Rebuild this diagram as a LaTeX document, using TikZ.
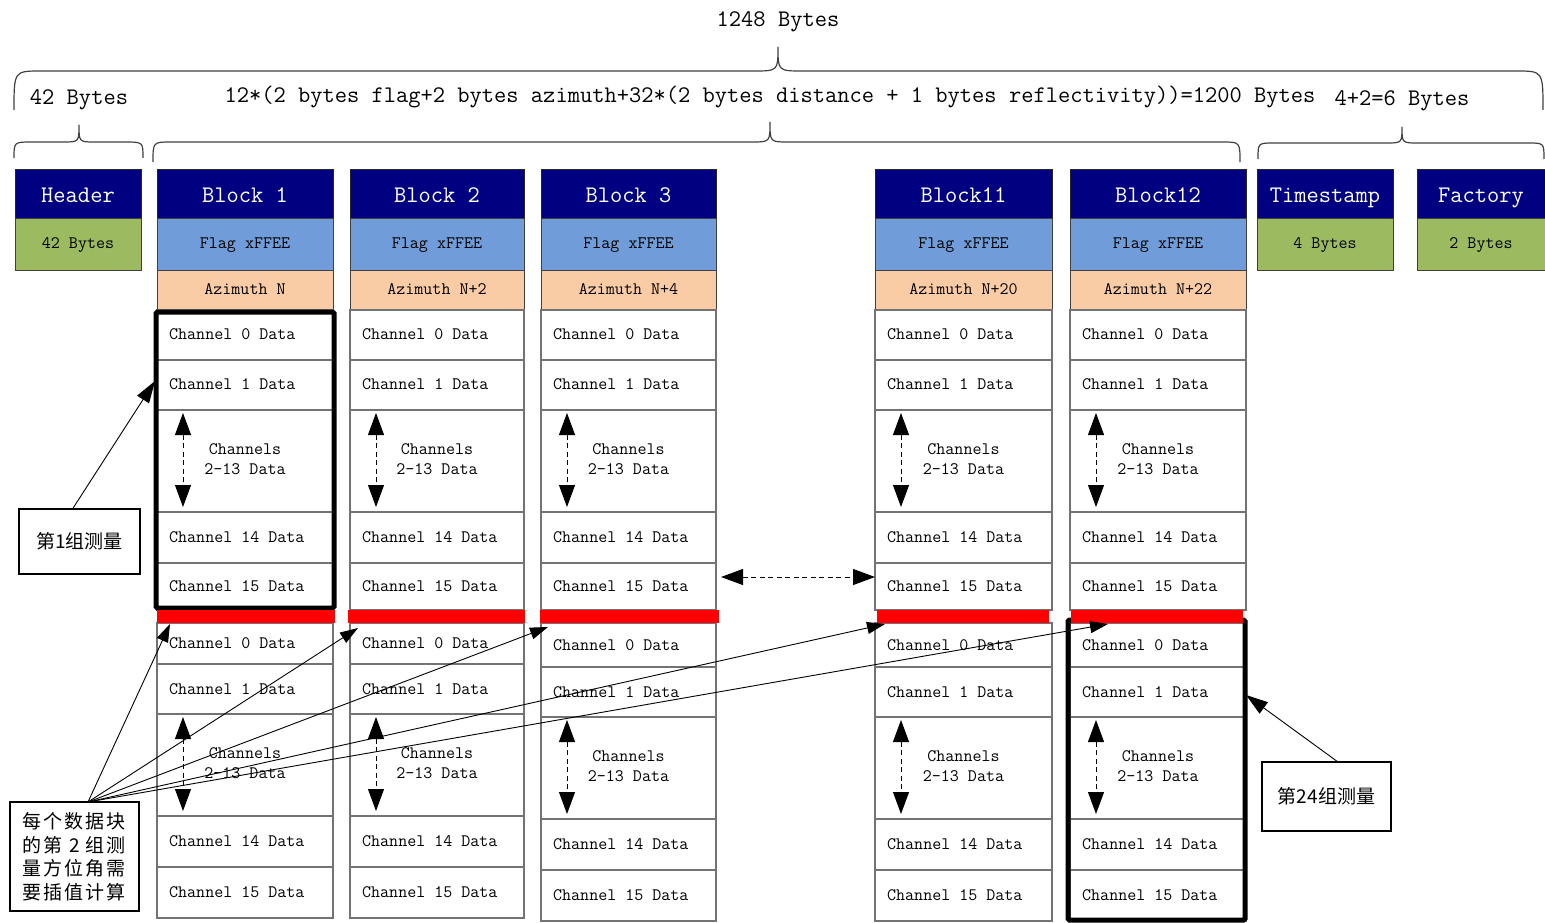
\documentclass[tikz,border=0pt]{standalone}
\usepackage{fontspec}
\usetikzlibrary{arrows.meta}
\newfontfamily\cjk{Noto Sans CJK SC}
\definecolor{navy}{RGB}{0,0,128}
\definecolor{flagblue}{RGB}{112,157,217}
\definecolor{azim}{RGB}{250,204,166}
\definecolor{grn}{RGB}{156,187,97}
\newcommand\bigf{\ttfamily\addfontfeatures{FakeBold=1.4}\fontsize{23.8}{26}\selectfont}
\newcommand\smf{\ttfamily\addfontfeatures{FakeBold=1.4}\fontsize{17.5}{20}\selectfont}
\newcommand\cc[1]{\makebox[21pt]{#1}}
\newcommand\mybrace[8]{\draw[bracel] (#1,#3) .. controls (#1,#4) .. (#1+#5,#4) -- (#6-#8,#4) .. controls (#6,#4) .. (#6,#7) .. controls (#6,#4) .. (#6+#8,#4) -- (#2-#5,#4) .. controls (#2,#4) .. (#2,#3);}
\begin{document}
\begin{tikzpicture}[x=1pt,y=-1pt,
  cellat/.style n args={4}{anchor=north west, at={(#1,#2)}, minimum width={(#3-(#1))*1pt}, minimum height={(#4-(#2))*1pt}},
  base/.style={inner sep=0pt, outer sep=0pt, line width=1pt},
  hdr/.style={base, fill=navy, draw=black!85, text=white, font=\bigf, text height=19pt, text depth=3pt},
  flagc/.style={base, fill=flagblue, draw=black!75, font=\smf, text height=12pt, text depth=3pt},
  azc/.style={base, fill=azim, draw=black!75, font=\smf, text height=12pt, text depth=3pt},
  grnc/.style={base, fill=grn, draw=black!75, font=\smf, text height=12pt, text depth=3pt},
  cell/.style={base, fill=white, draw=black!55, line width=1.2pt},
  chtext/.style={inner sep=0pt, font=\smf, anchor=west},
  midtext/.style={inner sep=0pt, font=\smf, align=center},
  redbar/.style={base, fill=red, draw=none},
  frame/.style={base, draw=black, line width=5pt, rounded corners=1.5pt},
  bracel/.style={draw=black!75, line width=1.2pt},
  ttl/.style={inner sep=0pt, font=\bigf},
  cbox/.style={base, draw=black, line width=2pt, fill=white, font=\cjk\fontsize{19}{23.5}\selectfont},
  vdash/.style={line width=0.9pt, dash pattern=on 5pt off 3.5pt, {Triangle[length=22pt,width=16pt]}-{Triangle[length=22pt,width=16pt]}},
  ptr/.style={line width=0.9pt, -{Triangle[length=18pt,width=12pt]}},
  ptrbig/.style={line width=0.9pt, -{Triangle[length=22pt,width=14pt]}},
]
\useasboundingbox (0,0) rectangle (1545,923);

% braces and titles
\mybrace{14}{1543}{110}{71}{27}{778}{47}{25}
\mybrace{14}{143}{158}{142}{18}{79}{125}{16}
\mybrace{153}{1240}{162}{142}{18}{770}{122}{18}
\mybrace{1258}{1544}{159}{143}{16}{1402}{127}{16}
\node[ttl] (t1248) at (778,22) {1248 Bytes};
\node[ttl] (t42) at (79,100) {42 Bytes};
\node[ttl] (tmid) at (770,97) {12*(2 bytes flag+2 bytes azimuth+32*(2 bytes distance + 1 bytes reflectivity))=1200 Bytes};
\node[ttl] (t6) at (1402,101) {4+2=6 Bytes};

% header / timestamp / factory
\node[hdr, cellat={15}{170}{141}{218}] (hdr) {Header};
\node[grnc, cellat={15}{218}{141}{270}] (hdrb) {42 Bytes};
\node[hdr, cellat={1257}{170}{1393}{218}] (ts) {Timestamp};
\node[grnc, cellat={1257}{218}{1393}{270}] (tsb) {4 Bytes};
\node[hdr, cellat={1417}{170}{1548}{218}] (fac) {\hspace*{-3pt}Factory};
\node[grnc, cellat={1417}{218}{1548}{270}] (facb) {\hspace*{-3pt}2 Bytes};

% blocks
\foreach \n/\xl/\xr/\bn/\az/\dy in {1/157/333/Block 1/Azimuth N/0, 2/350/524/Block 2/Azimuth N+2/0, 3/541/716/Block 3/Azimuth N+4/3, 11/875/1052/Block11/Azimuth N+20/3, 12/1070/1246/Block12/Azimuth N+22/3}{
  \node[hdr, cellat={\xl}{170}{\xr}{218}] (blk\n) {\bn};
  \node[flagc, cellat={\xl}{218}{\xr}{270}] (flag\n) {Flag xFFEE};
  \node[azc, cellat={\xl}{270}{\xr}{310}] (az\n) {\az};
  % group 1
  \node[cell, cellat={\xl}{310}{\xr}{360}] (b\n-a0) {};
  \node[chtext] (b\n-a0t) at ([xshift=12pt,yshift=1pt]b\n-a0.west) {Channel 0 Data};
  \node[cell, cellat={\xl}{360}{\xr}{410}] (b\n-a1) {};
  \node[chtext] (b\n-a1t) at ([xshift=12pt,yshift=1pt]b\n-a1.west) {Channel 1 Data};
  \node[cell, cellat={\xl}{410}{\xr}{512}] (b\n-am) {};
  \node[midtext] (b\n-amt) at ([yshift=2pt]b\n-am.center) {Channels\\2-13 Data};
  \coordinate (b\n-au) at ([xshift=26pt,yshift=-3pt]b\n-am.north west);
  \coordinate (b\n-ad) at ([xshift=26pt,yshift=5pt]b\n-am.south west);
  \draw[vdash] (b\n-au) -- (b\n-ad);
  \node[cell, cellat={\xl}{512}{\xr}{563}] (b\n-a14) {};
  \node[chtext] (b\n-a14t) at ([xshift=12pt]b\n-a14.west) {Channel 14 Data};
  \node[cell, cellat={\xl}{563}{\xr}{610}] (b\n-a15) {};
  \node[chtext] (b\n-a15t) at ([xshift=12pt]b\n-a15.west) {Channel 15 Data};
  % group 2
  \node[cell, cellat={\xl}{623}{\xr}{664+\dy}] (b\n-b0) {};
  \node[chtext] (b\n-b0t) at ([xshift=12pt]b\n-b0.west) {Channel 0 Data};
  \node[cell, cellat={\xl}{664+\dy}{\xr}{714+\dy}] (b\n-b1) {};
  \node[chtext] (b\n-b1t) at ([xshift=12pt]b\n-b1.west) {Channel 1 Data};
  \node[cell, cellat={\xl}{714+\dy}{\xr}{816+\dy}] (b\n-bm) {};
  \node[midtext] (b\n-bmt) at ([yshift=2pt]b\n-bm.center) {Channels\\2-13 Data};
  \coordinate (b\n-bu) at ([xshift=26pt,yshift=-3pt]b\n-bm.north west);
  \coordinate (b\n-bd) at ([xshift=26pt,yshift=5pt]b\n-bm.south west);
  \draw[vdash] (b\n-bu) -- (b\n-bd);
  \node[cell, cellat={\xl}{816+\dy}{\xr}{867+\dy}] (b\n-b14) {};
  \node[chtext] (b\n-b14t) at ([xshift=12pt]b\n-b14.west) {Channel 14 Data};
  \node[cell, cellat={\xl}{867+\dy}{\xr}{918+\dy}] (b\n-b15) {};
  \node[chtext] (b\n-b15t) at ([xshift=12pt]b\n-b15.west) {Channel 15 Data};
}

% highlighted groups
\node[frame, cellat={156}{312}{334}{608}] (g1) {};
\node[frame, cellat={1068}{620}{1245}{920}] (g24) {};

% red separators
\foreach \n/\xl/\xr in {1/157/335, 2/348/525, 3/540/719, 11/877/1049, 12/1071/1243}{
  \node[redbar, cellat={\xl}{610}{\xr}{623}] (r\n) {};
}

% horizontal dashed arrow
\coordinate (hL) at ([xshift=5pt,yshift=9.5pt]b3-a15.east);
\coordinate (hR) at ([yshift=9.5pt]b11-a15.west);
\draw[vdash] (hL) -- (hR);

% annotation boxes
\node[cbox, cellat={19}{509}{140}{574}] (m1) {第1组测量};
\node[cbox, cellat={1262}{762}{1391}{831}] (m24) {第24组测量};
\node[cbox, cellat={10}{802}{139}{911}, align=left] (m2) {\cc{每}\cc{个}\cc{数}\cc{据}\cc{块}\\\cc{的}\cc{第}\cc{2}\cc{组}\cc{测}\\\cc{量}\cc{方}\cc{位}\cc{角}\cc{需}\\\cc{要}\cc{插}\cc{值}\cc{计}\cc{算}};

% pointers
\draw[ptrbig] ([xshift=-7pt]m1.north) -- ([xshift=-2pt,yshift=4pt]b1-a1.west);
\draw[ptrbig] ([xshift=11.5pt]m24.north) -- ([yshift=-3pt]b12-b1.east);
\coordinate (m2s) at ([xshift=13.5pt]m2.north);
\draw[ptr] (m2s) -- ([xshift=13pt,yshift=-1pt]b1-b0.north west);
\draw[ptr] (m2s) -- ([xshift=8pt,yshift=-5pt]b2-b0.north west);
\draw[ptr] (m2s) -- ([xshift=7pt,yshift=-4pt]b3-b0.north west);
\draw[ptr] (m2s) -- ([xshift=10pt,yshift=-1pt]b11-b0.north west);
\draw[ptr] (m2s) -- ([xshift=38pt,yshift=-1pt]b12-b0.north west);
\end{tikzpicture}
\end{document}
